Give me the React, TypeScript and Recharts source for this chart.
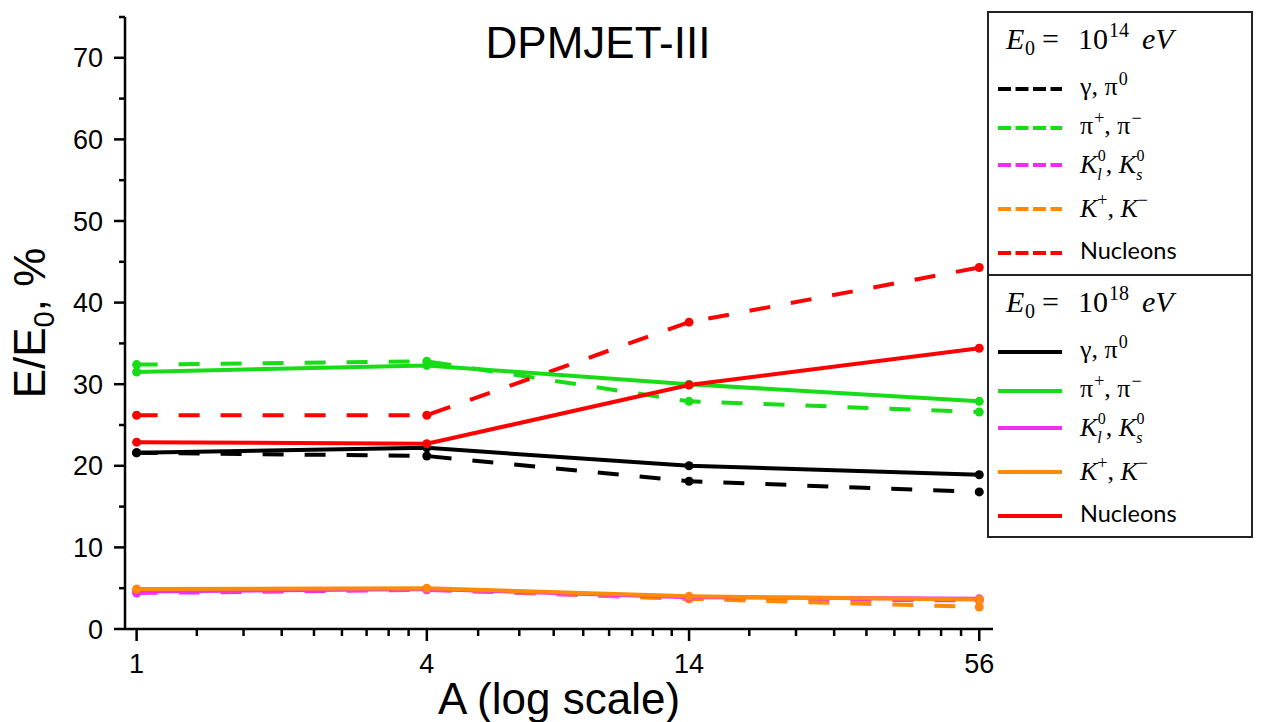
import { LineChart, Line, XAxis, YAxis, Label } from 'recharts';

const SANS = '"Liberation Sans", Arial, sans-serif';
const SERIF = '"Liberation Serif", "DejaVu Serif", serif';

// mass number of the primary nucleus
const MASS_NUMBERS = [1, 4, 14, 56];
const X_TICKS = [1, 4, 14, 56];
const Y_TICKS = [0, 10, 20, 30, 40, 50, 60, 70];
const Y_MINOR = [5, 15, 25, 35, 45, 55, 65, 75];

// E0 = 10^14 eV (dashed)
const gamma14 = [21.6, 21.2, 18.1, 16.8];
const piCharged14 = [32.4, 32.8, 27.9, 26.6];
const kNeutral14 = [4.4, 4.8, 3.7, 3.5];
const kCharged14 = [4.6, 4.9, 3.7, 2.7];
const nucleons14 = [26.2, 26.2, 37.6, 44.3];

// E0 = 10^18 eV (solid)
const gamma18 = [21.6, 22.2, 20.0, 18.9];
const piCharged18 = [31.5, 32.3, 30.0, 27.9];
const kNeutral18 = [4.6, 4.9, 3.9, 3.7];
const kCharged18 = [4.9, 5.0, 4.0, 3.6];
const nucleons18 = [22.9, 22.7, 29.9, 34.4];

const COLORS = {
  gamma: '#000000',
  piCharged: '#18dc18',
  kNeutral: '#f02ef0',
  kCharged: '#ff8a0a',
  nucleons: '#ff0000',
};

type Kind = keyof typeof COLORS;
const KINDS: Kind[] = ['gamma', 'piCharged', 'kNeutral', 'kCharged', 'nucleons'];

const SERIES = [
  { key: 'gamma14', kind: 'gamma' as Kind, dashed: true, values: gamma14 },
  { key: 'piCharged14', kind: 'piCharged' as Kind, dashed: true, values: piCharged14 },
  { key: 'kNeutral14', kind: 'kNeutral' as Kind, dashed: true, values: kNeutral14 },
  { key: 'kCharged14', kind: 'kCharged' as Kind, dashed: true, values: kCharged14 },
  { key: 'nucleons14', kind: 'nucleons' as Kind, dashed: true, values: nucleons14 },
  { key: 'gamma18', kind: 'gamma' as Kind, dashed: false, values: gamma18 },
  { key: 'piCharged18', kind: 'piCharged' as Kind, dashed: false, values: piCharged18 },
  { key: 'kNeutral18', kind: 'kNeutral' as Kind, dashed: false, values: kNeutral18 },
  { key: 'kCharged18', kind: 'kCharged' as Kind, dashed: false, values: kCharged18 },
  { key: 'nucleons18', kind: 'nucleons' as Kind, dashed: false, values: nucleons18 },
];

const chartData = MASS_NUMBERS.map((A, i) => {
  const row: Record<string, number> = { A };
  SERIES.forEach((s) => {
    row[s.key] = s.values[i];
  });
  return row;
});

// eight evenly spaced minor ticks inside each major interval
const xMinor: number[] = [];
for (let i = 0; i < X_TICKS.length - 1; i++) {
  const a = X_TICKS[i];
  const b = X_TICKS[i + 1];
  for (let k = 1; k <= 8; k++) xMinor.push(a + ((b - a) * k) / 9);
}
const xAllTicks = [...X_TICKS, ...xMinor].sort((p, q) => p - q);
const yAllTicks = [...Y_TICKS, ...Y_MINOR].sort((p, q) => p - q);

function XTick(props: any) {
  const { x, y, payload } = props;
  const major = X_TICKS.includes(payload.value);
  return (
    <g>
      <line x1={x} x2={x} y1={y} y2={y + (major ? 12 : 7)} stroke="#000" strokeWidth={2.5} />
      {major && (
        <text x={x} y={y + 44} textAnchor="middle" fontSize={27} fontFamily={SANS} fill="#000">
          {payload.value}
        </text>
      )}
    </g>
  );
}

function YTick(props: any) {
  const { x, y, payload } = props;
  const major = Y_TICKS.includes(payload.value);
  return (
    <g>
      <line x1={x} x2={x - (major ? 11 : 6)} y1={y} y2={y} stroke="#000" strokeWidth={2.5} />
      {major && (
        <text x={x - 22} y={y + 9.5} textAnchor="end" fontSize={27} fontFamily={SANS} fill="#000">
          {payload.value}
        </text>
      )}
    </g>
  );
}

function XTitle(props: any) {
  const { viewBox } = props;
  return (
    <text
      x={viewBox.x + viewBox.width / 2}
      y={viewBox.y + 85}
      textAnchor="middle"
      fontSize={44}
      fontFamily={SANS}
      fill="#000"
    >
      A (log scale)
    </text>
  );
}

function YTitle(props: any) {
  const { viewBox } = props;
  const cx = viewBox.x - 20;
  const cy = viewBox.y + viewBox.height / 2;
  return (
    <text
      x={cx}
      y={cy}
      transform={`rotate(-90, ${cx}, ${cy})`}
      textAnchor="middle"
      fontSize={44}
      fontFamily={SANS}
      fill="#000"
    >
      E/E
      <tspan fontSize={29} dy={9}>0</tspan>
      <tspan dy={-9}>,  %</tspan>
    </text>
  );
}

function ItemText({ kind, x, y }: { kind: Kind; x: number; y: number }) {
  if (kind === 'nucleons') {
    return (
      <text x={x} y={y} fontSize={23.5} fontFamily='Lato, "Noto Sans", sans-serif' fill="#000">
        Nucleons
      </text>
    );
  }
  const common = { x, y, fontSize: 26, fontFamily: SERIF, fill: '#000' };
  if (kind === 'gamma') {
    return (
      <text {...common}>
        γ, π<tspan dx={1} dy={-10} fontSize={18}>0</tspan>
      </text>
    );
  }
  if (kind === 'piCharged') {
    return (
      <text {...common}>
        π<tspan dx={1} dy={-10} fontSize={18}>+</tspan>
        <tspan dy={10}>, π</tspan>
        <tspan dx={1} dy={-10} fontSize={18}>−</tspan>
      </text>
    );
  }
  if (kind === 'kNeutral') {
    // subscript and superscript stacked after each K
    return (
      <text {...common} y={y + 2}>
        <tspan fontStyle="italic">K</tspan>
        <tspan dy={7} fontSize={16} fontStyle="italic">l</tspan>
        <tspan dx={-4} dy={-19} fontSize={16}>0</tspan>
        <tspan dy={12}>, </tspan>
        <tspan fontStyle="italic">K</tspan>
        <tspan dy={7} fontSize={16} fontStyle="italic">s</tspan>
        <tspan dx={-6} dy={-19} fontSize={16}>0</tspan>
      </text>
    );
  }
  return (
    <text {...common} y={y + 2}>
      <tspan fontStyle="italic">K</tspan>
      <tspan dy={-11} fontSize={18}>+</tspan>
      <tspan dy={11}>, </tspan>
      <tspan fontStyle="italic">K</tspan>
      <tspan dy={-11} fontSize={18}>−</tspan>
    </text>
  );
}

const LEGEND_GROUPS = [
  { power: '14', dashed: true, top: 12 },
  { power: '18', dashed: false, top: 275 },
];
const ROW_OFFSETS = [77, 116, 153, 197, 241];

function EnergyLegend() {
  return (
    <svg
      width={1261}
      height={722}
      style={{ position: 'absolute', left: 0, top: 0, pointerEvents: 'none' }}
    >
      <text x={598} y={58} textAnchor="middle" fontSize={44} fontFamily={SANS} fill="#000">
        DPMJET-III
      </text>
      <rect x={988} y={12} width={264} height={525} fill="#fff" stroke="#222" strokeWidth={2} />
      <line x1={988} x2={1252} y1={275} y2={275} stroke="#222" strokeWidth={2} />
      {LEGEND_GROUPS.map((g) => {
        const by = g.top + 37;
        return (
          <g key={g.power}>
            <text y={by} fontSize={30} fontFamily={SERIF} fill="#000">
              <tspan x={1006} fontStyle="italic">E</tspan>
              <tspan x={1025} dy={6} fontSize={20}>0</tspan>
              <tspan x={1042} dy={-6}>=</tspan>
              <tspan x={1078}>10</tspan>
              <tspan x={1109} dy={-12} fontSize={20}>{g.power}</tspan>
              <tspan x={1142} dy={12} fontStyle="italic">eV</tspan>
            </text>
            {KINDS.map((kind, i) => {
              const ly = g.top + ROW_OFFSETS[i];
              return (
                <g key={kind}>
                  <line
                    x1={998}
                    x2={1062}
                    y1={ly}
                    y2={ly}
                    stroke={COLORS[kind]}
                    strokeWidth={4}
                    strokeDasharray={g.dashed ? '13 4.5' : undefined}
                  />
                  <ItemText kind={kind} x={1080} y={ly + 6} />
                </g>
              );
            })}
          </g>
        );
      })}
    </svg>
  );
}

export default function App() {
  return (
    <div style={{ position: 'absolute', left: 0, top: 0, width: 1261, height: 722, background: '#fff' }}>
      <LineChart
        width={1261}
        height={722}
        data={chartData}
        margin={{ top: 17, right: 268, bottom: 33, left: 65 }}
      >
        <XAxis
          dataKey="A"
          type="number"
          scale="log"
          domain={[0.946, 59.8]}
          allowDataOverflow
          ticks={xAllTicks}
          interval={0}
          tick={<XTick />}
          tickLine={false}
          tickSize={0}
          tickMargin={0}
          height={60}
          axisLine={{ stroke: '#000', strokeWidth: 2.5 }}
        >
          <Label content={<XTitle />} />
        </XAxis>
        <YAxis
          type="number"
          domain={[0, 75]}
          ticks={yAllTicks}
          interval={0}
          tick={<YTick />}
          tickLine={false}
          tickSize={0}
          tickMargin={0}
          width={60}
          axisLine={{ stroke: '#000', strokeWidth: 2.5 }}
        >
          <Label content={<YTitle />} />
        </YAxis>
        {SERIES.map((s) => (
          <Line
            key={s.key}
            type="linear"
            dataKey={s.key}
            stroke={COLORS[s.kind]}
            strokeWidth={4}
            strokeDasharray={s.dashed ? '21 21' : undefined}
            dot={{ r: 4.5, fill: COLORS[s.kind], stroke: 'none' }}
            activeDot={false}
            isAnimationActive={false}
          />
        ))}
      </LineChart>
      <EnergyLegend />
    </div>
  );
}
